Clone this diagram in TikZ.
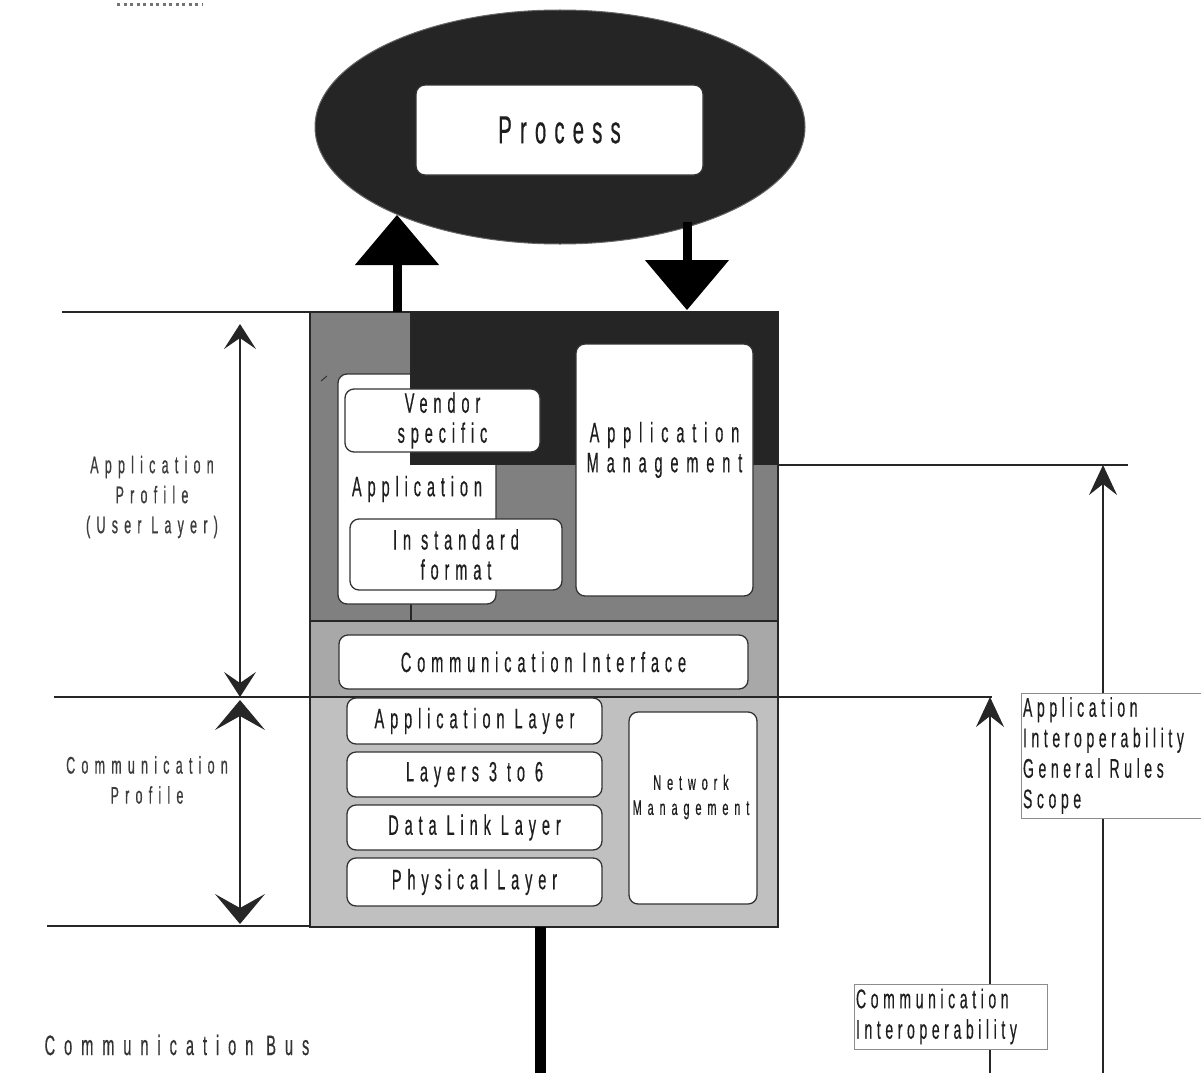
\documentclass[tikz,border=0pt]{standalone}
\usepackage{fontspec}
\setmainfont{Liberation Sans}
\newfontfamily\nfa[FakeStretch=0.52,LetterSpace=21,FakeBold=0.4]{Liberation Sans}
\newfontfamily\nfb[FakeStretch=0.52,LetterSpace=28,FakeBold=0.4]{Liberation Sans}
\newfontfamily\nfc[FakeStretch=0.52,LetterSpace=32,FakeBold=0.4]{Liberation Sans}
\newfontfamily\nfd[FakeStretch=0.52,LetterSpace=17,FakeBold=0.3]{Liberation Sans}
\newfontfamily\nfe[FakeStretch=0.52,LetterSpace=26,FakeBold=0.6]{Liberation Sans}
\usetikzlibrary{arrows.meta,shapes.geometric}
\definecolor{darkfill}{HTML}{252525}
\definecolor{midgray}{HTML}{808080}
\definecolor{ifgray}{HTML}{A8A8A8}
\definecolor{lowgray}{HTML}{C0C0C0}
\definecolor{txt}{HTML}{1E1E1E}
\definecolor{lbltxt}{HTML}{3C3C3C}
\begin{document}
\begin{tikzpicture}[x=1pt,y=-1pt,
  thinline/.style={line width=1.3pt, draw=black!85},
  wbox/.style={draw=black!80, line width=1.3pt, fill=white, rounded corners=9pt, inner sep=0pt, text=txt, align=center},
  boxfont/.style={font=\nfa\fontsize{28}{30}\selectfont},
  lbl/.style={text=txt, align=center, inner sep=0pt},
  sidelbl/.style={text=lbltxt, align=center, inner sep=0pt, font=\nfe\fontsize{24}{30}\selectfont},
  scopebox/.style={draw=black!45, line width=0.8pt, fill=white, inner sep=2pt, align=left, text=txt, font=\nfd\fontsize{27}{30.5}\selectfont},
  dimarrowA/.style={thinline, {Stealth[length=25pt,width=32pt,inset=11pt]}-{Stealth[length=25pt,width=32pt,inset=11pt]}},
  dimarrowB/.style={thinline, {Stealth[length=30pt,width=50pt,inset=14pt]}-{Stealth[length=30pt,width=50pt,inset=14pt]}},
  scopearrow/.style={thinline, -{Stealth[length=30pt,width=28pt,inset=11pt]}},
  bigarrow/.style={line width=9pt, -{Triangle[length=50pt,width=84pt,line width=1pt]}}
]
\useasboundingbox (0,0) rectangle (1201,1073);

% small dotted fragment at top
\draw[black!55, line width=3pt, dash pattern=on 3pt off 3.5pt] (117,5) -- (203,5);

% process
\node[ellipse, draw=black!60, line width=1pt, fill=darkfill, minimum width=490pt, minimum height=234pt, inner sep=0pt] (procell) at (560,127) {};
\node[wbox, minimum width=287pt, minimum height=90pt, font=\nfa\fontsize{39}{40}\selectfont] (proc) at (559.5,130) {Process};

% block backgrounds
\draw[thinline, fill=midgray] (310,312) rectangle (411,621);
\draw[thinline, fill=midgray] (411,464) rectangle (778,621);
\node[wbox, boxfont, minimum width=158pt, minimum height=230pt] (app) at (417,489) {Application};
\draw[thinline, fill=darkfill] (411,312) rectangle (778,464);
\draw[black!80, line width=1pt] (321,381) -- (327,376);
\draw[thinline, fill=ifgray] (310,621) rectangle (778,697);
\draw[thinline, fill=lowgray] (310,697) rectangle (778,927);

\coordinate (blocktop) at (397,312);
\coordinate (blockdown) at (687,310);
\coordinate (ellup) at (397,215);
\coordinate (elldown) at (687,222);
\coordinate (blockbot) at (540,927);
\coordinate (busend) at (540,1073);

% boxes in the application area
\node[wbox, boxfont, minimum width=195pt, minimum height=63pt] (vendor) at (442.5,420.5) {Vendor\\specific};
\node[wbox, boxfont, minimum width=212pt, minimum height=71pt] (stdfmt) at (456,554.5) {In standard\\format};
\node[wbox, minimum width=177pt, minimum height=252pt] (appmgmt) at (664.5,470) {};
\node[lbl, font=\nfb\fontsize{28}{30}\selectfont] (appmgmttext) at (664.5,450) {Application\\Management};

% communication interface and layers
\node[wbox, boxfont, minimum width=409pt, minimum height=54pt] (commif) at (543.5,662) {Communication Interface};
\node[wbox, boxfont, minimum width=255pt, minimum height=46pt] (applayer) at (474.5,721) {Application Layer};
\node[wbox, boxfont, minimum width=255pt, minimum height=45pt] (layers) at (474.5,774.5) {Layers 3 to 6};
\node[wbox, boxfont, minimum width=255pt, minimum height=45pt] (dll) at (474.5,827.5) {Data Link Layer};
\node[wbox, boxfont, minimum width=255pt, minimum height=48pt] (phys) at (474.5,882) {Physical Layer};
\node[wbox, minimum width=128pt, minimum height=192pt] (netmgmt) at (693,808) {};
\node[lbl, font=\nfb\fontsize{21}{25}\selectfont] (netmgmttext) at (691,797) {Network\\Management};

% big arrows between process and block
\draw[bigarrow] (blocktop) -- (ellup);
\draw[bigarrow] (elldown) -- (blockdown);

% bus
\draw[line width=11pt] (blockbot) -- (busend);

% horizontal reference lines
\coordinate (l1a) at (62,312);   \coordinate (l1b) at (310,312);
\coordinate (l2a) at (54,697);   \coordinate (l2b) at (310,697);
\coordinate (l3a) at (47,926);   \coordinate (l3b) at (310,926);
\coordinate (r1a) at (778,465);  \coordinate (r1b) at (1128,465);
\coordinate (r2a) at (778,697);  \coordinate (r2b) at (992,697);
\draw[thinline] (l1a) -- (l1b);
\draw[thinline] (l2a) -- (l2b);
\draw[thinline] (l3a) -- (l3b);
\draw[thinline] (r1a) -- (r1b);
\draw[thinline] (r2a) -- (r2b);

% left dimension arrows
\coordinate (d1t) at (240,324);
\coordinate (d1b) at (240,697);
\coordinate (d2t) at (240,700);
\coordinate (d2b) at (240,924);
\draw[dimarrowA] (d1t) -- (d1b);
\draw[dimarrowB] (d2t) -- (d2b);

\node[sidelbl] (applbl) at (152,497) {Application\\Profile\\(User Layer)};
\node[sidelbl] (comlbl) at (147,780) {Communication\\Profile};

% right scope arrows
\coordinate (s1b) at (1103,1073);
\coordinate (s1t) at (1103,465);
\coordinate (s2b) at (990,1073);
\coordinate (s2t) at (990,697);
\draw[scopearrow] (s1b) -- (s1t);
\draw[scopearrow] (s2b) -- (s2t);

\node[scopebox, minimum width=180pt, minimum height=125pt, text width=176pt] (appscope) at (1111,755.5) {Application\\Interoperability\\General Rules\\Scope};
\node[scopebox, minimum width=193pt, minimum height=65pt, text width=189pt] (comscope) at (950.5,1016.5) {Communication\\Interoperability};

\node[lbl, font=\nfc\fontsize{28}{30}\selectfont, text=black!80] (bus) at (177,1045) {Communication Bus};
\end{tikzpicture}
\end{document}
